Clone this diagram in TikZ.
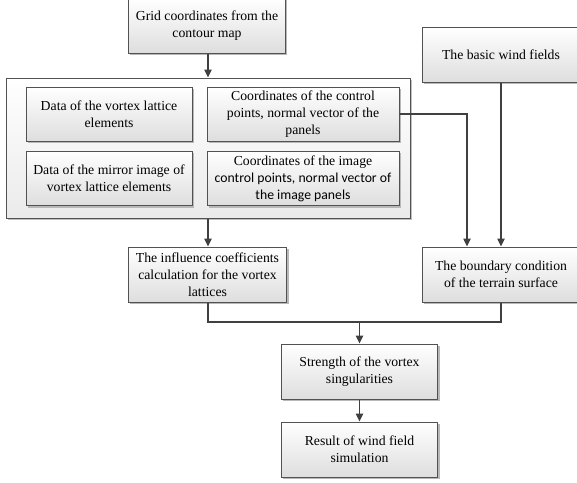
\documentclass[tikz,border=0pt]{standalone}
\usepackage{fontspec}
\setmainfont{Liberation Serif}
\newfontfamily\carl{Carlito}
\usetikzlibrary{arrows.meta,shadows}
\begin{document}
\begin{tikzpicture}[x=0.75pt,y=-0.75pt,
  box/.style={draw=black!68, line width=0.75pt, top color=white, bottom color=black!13,
    drop shadow={shadow xshift=1.3pt, shadow yshift=-1.3pt, fill=black!28, opacity=1},
    align=center, inner sep=0pt, font=\fontsize{10.3}{12.75}\selectfont,
    minimum height=41.25pt},
  wide/.style={minimum width=117.5pt},
  cont/.style={draw=black!68, line width=0.75pt, top color=white, bottom color=black!8,
    drop shadow={shadow xshift=1.3pt, shadow yshift=-1.3pt, fill=black!25, opacity=1},
    minimum width=303pt, minimum height=105pt, inner sep=0pt},
  conn/.style={draw=black!75, line width=1.05pt},
  arr/.style={conn, -{Triangle[width=5.5pt,length=6pt]}}
]
\useasboundingbox (0,0) rectangle (577,482);

\node[box, wide] (grid) at (207,25.5) {Grid coordinates from the\\contour map};
\node[box, wide] (wind) at (501,54.5) {The basic wind fields};

\node[cont] (panel) at (208,148) {};
\node[box, minimum width=124.5pt, minimum height=40.5pt] (vl) at (109,114) {Data of the vortex lattice\\elements};
\node[box, minimum width=144pt, minimum height=40.5pt] (cp) at (303,114) {Coordinates of the control\\points, normal vector of the\\panels};
\node[box, minimum width=124.5pt, minimum height=41pt] (mi) at (109,178.5) {Data of the mirror image of\\vortex lattice elements};
\node[box, minimum width=144pt, minimum height=41pt] (icp) at (303,178.5) {Coordinates of the image\\{\carl control points, normal vector of}\\{\carl the image panels}};

\node[box, minimum width=119pt] (infl) at (207.5,274.5) {The influence coefficients\\calculation for the vortex\\lattices};
\node[box, wide] (bc) at (501,274.5) {The boundary condition\\of the terrain surface};
\node[box, wide] (str) at (359.5,371.5) {Strength of the vortex\\singularities};
\node[box, wide] (res) at (359.5,449.5) {Result of wind field\\simulation};

\coordinate (m) at (359.5,322);

\draw[arr] (grid.south -| panel.north) -- (panel.north);
\draw[arr] (panel.south) -- (infl.north -| panel.south);
\draw[arr] (cp.east) -| (bc.north -| 467,0);
\draw[arr] (wind.south) -- (bc.north);
\draw[conn] (infl.south -| panel.south) |- (m) -| (bc.south);
\draw[arr] (m) -- (str.north);
\draw[arr] (str.south) -- (res.north);
\end{tikzpicture}
\end{document}
